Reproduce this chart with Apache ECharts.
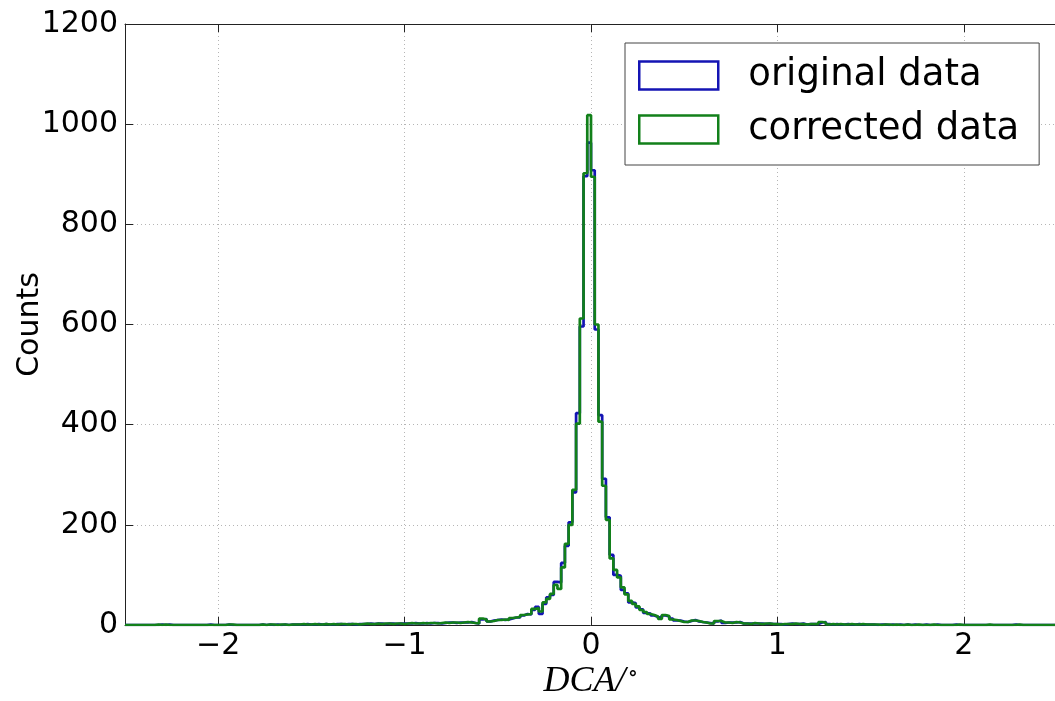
<!DOCTYPE html>
<html>
<head>
<meta charset="utf-8">
<script src="https://cdn.jsdelivr.net/npm/echarts@6/dist/echarts.min.js"></script>
<style>
html,body{margin:0;padding:0;background:#fff;}
#chart{width:1055px;height:701px;}
</style>
</head>
<body>
<div id="chart"></div>
<script>
// Histogram binning (DCA in degrees)
const xMin = -2.5;
const xMax = 2.5;
const binWidth = 0.02;

// Counts per bin (250 bins from -2.5 to 2.5)
const originalCounts = [
  0,0,0,0,0,0,0,0,0,1,
  0,1,0,0,0,0,0,0,0,0,
  0,0,1,0,0,0,0,1,0,0,
  0,0,0,0,0,0,1,0,1,0,
  1,0,1,0,1,1,1,1,2,1,
  1,2,1,2,1,1,2,2,1,2,
  2,1,2,2,2,3,2,3,3,2,
  3,3,2,3,3,3,3,4,3,3,
  4,3,4,4,3,4,5,5,4,5,
  5,5,6,4,3,11,12,7,9,10,
  11,10,11,13,15,15,19,22,21,30,
  36,22,42,55,60,86,85,124,158,205,
  265,423,596,896,963,908,590,419,292,215,
  140,100,98,70,63,45,44,35,31,24,
  23,19,16,14,19,17,13,9,9,7,
  6,8,10,7,6,5,4,3,7,9,
  4,5,5,5,6,3,3,3,3,3,
  3,2,3,2,2,2,1,2,3,2,
  2,3,1,2,2,2,5,6,2,1,
  2,1,1,2,1,1,2,1,1,1,
  1,0,1,1,0,1,0,1,0,1,
  0,1,0,0,1,0,0,1,0,0,
  0,0,1,0,0,0,0,0,0,0,
  0,0,0,0,0,0,0,0,1,0,
  0,0,0,0,0,0,0,0,0,0
];
const correctedCounts = [
  0,0,0,0,0,0,0,0,1,0,
  1,0,0,0,0,0,0,0,0,0,
  0,0,0,0,0,0,0,1,1,0,
  0,0,0,0,0,0,1,0,1,1,
  0,1,1,0,1,1,1,2,1,1,
  2,1,1,2,1,2,1,2,2,1,
  2,2,1,2,3,2,2,3,2,3,
  3,2,3,3,2,3,4,3,3,4,
  3,4,4,3,4,5,4,5,5,4,
  5,6,5,4,3,13,11,7,8,10,
  10,11,10,14,15,16,20,21,22,32,
  34,27,45,52,62,80,72,115,162,200,
  270,402,612,902,1018,895,600,406,278,210,
  133,110,95,75,61,48,42,37,30,26,
  22,20,17,12,20,18,11,10,8,6,
  6,9,9,8,6,5,3,3,8,8,
  5,5,4,6,5,3,3,2,4,3,
  2,3,3,2,2,1,2,2,2,3,
  2,2,1,2,2,2,6,5,1,2,
  1,2,1,1,2,1,1,2,1,1,
  1,1,0,1,1,0,1,0,0,1,
  0,0,1,0,0,0,1,0,0,0,
  0,0,0,1,0,0,0,0,0,0,
  0,1,0,0,0,0,0,0,0,1,
  0,0,0,0,0,0,0,0,0,0
];

const yTicks = [0, 200, 400, 600, 800, 1000, 1200];
const seriesNames = ['original data', 'corrected data'];

function stepData(counts) {
  const d = [[xMin, 0]];
  counts.forEach((c, k) => d.push([xMin + k * binWidth, c]));
  d.push([xMin + counts.length * binWidth, counts[counts.length - 1]]);
  d.push([xMin + counts.length * binWidth, 0]);
  return d;
}

const BLUE = '#1414b4';
const GREEN = '#12801a';
const FONT = 'DejaVu Sans';

const chart = echarts.init(document.getElementById('chart'), null, {renderer: 'canvas'});
chart.setOption({
  animation: false,
  backgroundColor: '#ffffff',
  grid: {left: 125, top: 24, width: 932, height: 601, containLabel: false, outerBoundsMode: 'none'},
  legend: {
    orient: 'vertical',
    left: 625, top: 43,
    padding: [14, 20, 17, 13],
    itemWidth: 79, itemHeight: 28, itemGap: 17,
    borderColor: '#444', borderWidth: 1,
    backgroundColor: '#fff',
    textStyle: {fontFamily: FONT, fontSize: 37, color: '#000', padding: [0, 0, 0, 25]},
    data: [
      {name: seriesNames[0], icon: 'rect', itemStyle: {color: 'rgba(255,255,255,0)', borderColor: BLUE, borderWidth: 2.5}},
      {name: seriesNames[1], icon: 'rect', itemStyle: {color: 'rgba(255,255,255,0)', borderColor: GREEN, borderWidth: 2.5}}
    ]
  },
  xAxis: [{
    type: 'value', min: xMin, max: xMax, splitNumber: 5,
    name: '{i|DCA/}{s|∘}', nameLocation: 'middle', nameGap: 38, nameMoveOverlap: false,
    nameTextStyle: {
      padding: [0, 0, 0, 0],
      rich: {
        i: {fontFamily: 'Liberation Serif', fontStyle: 'italic', fontSize: 36, color: '#000'},
        s: {fontFamily: 'DejaVu Serif', fontSize: 22, color: '#000', verticalAlign: 'top', padding: [0,0,16,2]}
      }
    },
    axisLine: {show: true, onZero: false, lineStyle: {color: '#222', width: 1}},
    axisTick: {show: true, inside: true, length: 8, lineStyle: {color: '#222'}},
    axisLabel: {
      fontFamily: FONT, fontSize: 30, color: '#000', margin: 6,
      formatter: v => Number.isInteger(v) ? (v < 0 ? '\u2212' + Math.abs(v) : String(v)) : ''
    },
    splitLine: {show: true, lineStyle: {color: '#b5b5b5', type: [1, 3], width: 1}}
  }, {
    type: 'value', min: xMin, max: xMax, splitNumber: 5, position: 'top',
    axisLine: {show: true, onZero: false, lineStyle: {color: '#222', width: 1}},
    axisTick: {show: true, inside: true, length: 8, lineStyle: {color: '#222'}},
    axisLabel: {show: false},
    splitLine: {show: false}
  }],
  yAxis: {
    type: 'value', min: yTicks[0], max: yTicks[yTicks.length - 1], interval: 200,
    name: 'Counts', nameLocation: 'middle', nameGap: 80, nameMoveOverlap: false,
    nameTextStyle: {fontFamily: FONT, fontSize: 30, color: '#000'},
    axisLine: {show: true, onZero: false, lineStyle: {color: '#222', width: 1}},
    axisTick: {show: true, inside: true, length: 8, lineStyle: {color: '#222'}},
    axisLabel: {fontFamily: FONT, fontSize: 30, color: '#000', margin: 7, formatter: v => String(v)},
    splitLine: {show: true, lineStyle: {color: '#b5b5b5', type: [1, 3], width: 1}}
  },
  series: [
    {
      name: seriesNames[0], type: 'line', step: 'end', showSymbol: false, symbol: 'none',
      data: stepData(originalCounts),
      lineStyle: {color: BLUE, width: 2.7}, itemStyle: {color: BLUE}
    },
    {
      name: seriesNames[1], type: 'line', step: 'end', showSymbol: false, symbol: 'none',
      data: stepData(correctedCounts),
      lineStyle: {color: GREEN, width: 2.7}, itemStyle: {color: GREEN}
    }
  ]
});
</script>
</body>
</html>
